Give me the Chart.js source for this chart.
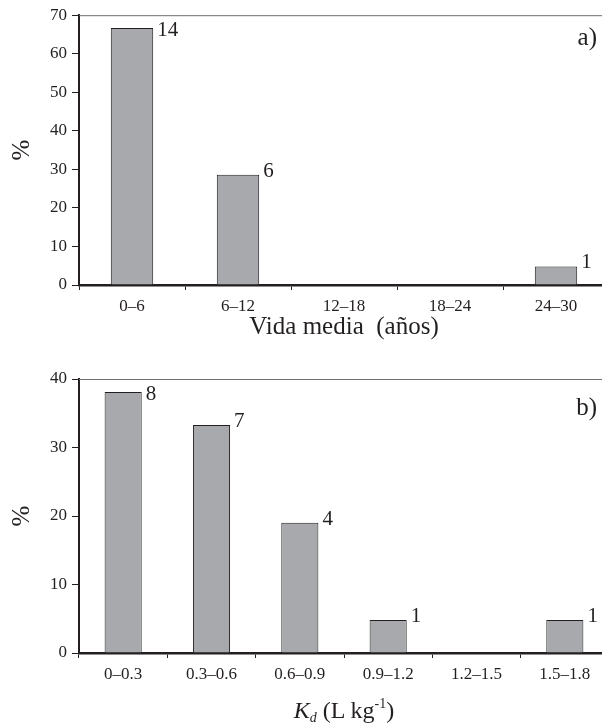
<!DOCTYPE html>
<html>
<head>
<meta charset="utf-8">
<script src="https://cdn.jsdelivr.net/npm/chart.js@4/dist/chart.umd.min.js"></script>
<style>
  html,body{margin:0;padding:0;background:#fff;}
  body{width:602px;height:723px;overflow:hidden;position:relative;font-family:"Liberation Serif","Times New Roman",serif;}
  canvas{position:absolute;left:0;}
  #cA{top:0;}
  #cB{top:360px;}
  #kdTitle{position:absolute;left:79px;width:530px;top:696px;text-align:center;font-size:24px;line-height:28px;color:#231f20;white-space:nowrap;}
  #kdTitle sub,#kdTitle sup{font-size:14px;line-height:0;position:relative;vertical-align:baseline;}
  #kdTitle sub{top:4px;}
  #kdTitle sup{top:-10px;}
</style>
</head>
<body>
<canvas id="cA" width="609" height="350"></canvas>
<canvas id="cB" width="609" height="363"></canvas>
<div id="kdTitle"><i>K</i><sub><i>d</i></sub> (L kg<sup>-1</sup>)</div>
<script>
// panel a) half-life classes
const catsA = ['0–6','6–12','12–18','18–24','24–30'];
const pctA = [66.7, 28.6, 0, 0, 4.8];
const countA = [14, 6, 0, 0, 1];
const yMaxA = 70;

// panel b) Kd classes
const catsB = ['0–0.3','0.3–0.6','0.6–0.9','0.9–1.2','1.2–1.5','1.5–1.8'];
const pctB = [38.1, 33.3, 19.0, 4.8, 0, 4.8];
const countB = [8, 7, 4, 1, 0, 1];
const yMaxB = 40;

const yStep = 10;
const ink = '#231f20';
const serif = '"Liberation Serif","Times New Roman",serif';

// top frame line, count labels next to bars, panel letter
const extras = {
  id:'extras',
  afterDatasetsDraw(chart, args, o){
    const {ctx, chartArea:a} = chart;
    ctx.save();
    ctx.strokeStyle = '#6d6e71'; ctx.lineWidth = 1;
    ctx.beginPath(); ctx.moveTo(a.left, a.top+0.5); ctx.lineTo(a.right, a.top+0.5); ctx.stroke();

    ctx.fillStyle = ink;
    ctx.font = '21px '+serif;
    ctx.textAlign = 'left'; ctx.textBaseline = 'alphabetic';
    const meta = chart.getDatasetMeta(0);
    meta.data.forEach((bar,i)=>{
      const n = o.counts[i];
      if(!n) return;
      const right = bar.x + bar.width/2;
      const y = Math.max(bar.y + 2, a.top + 21);
      ctx.fillText(String(n), right + 4, y);
    });

    ctx.font = '25px '+serif;
    ctx.textAlign = 'right';
    ctx.fillText(o.panel, a.right - 12, a.top + o.panelDy);
    ctx.restore();
  }
};

function makeChart(id, cats, pct, counts, yMax, o){
  const H = document.getElementById(id).height;
  return new Chart(document.getElementById(id), {
    type:'bar',
    data:{ labels:cats, datasets:[{
      data:pct,
      backgroundColor:'#a7a9ac',
      borderColor:ink,
      borderWidth:1,
      categoryPercentage:1,
      barPercentage:o.barPct
    }]},
    options:{
      responsive:false,
      animation:false,
      devicePixelRatio:1,
      layout:{ padding:{ top:o.padTop, left:0, right:0, bottom:0 } },
      plugins:{
        legend:{display:false},
        tooltip:{enabled:false},
        extras:{ counts, panel:o.panel, panelDy:o.panelDy }
      },
      scales:{
        x:{
          grid:{ offset:true, drawOnChartArea:false, drawTicks:true, tickLength:5, color:ink, lineWidth:1 },
          border:{ display:true, color:ink, width:2.5 },
          ticks:{ color:ink, font:{ family:serif, size:17 }, padding:6, maxRotation:0, autoSkip:false },
          title:{ display:!!o.xTitle, text:o.xTitle||'', color:ink, font:{ family:serif, size:25 }, padding:{ top:0, bottom:8 } },
          afterFit(s){ s.height = H - o.axisY; }
        },
        y:{
          min:0, max:yMax,
          grid:{ drawOnChartArea:false, drawTicks:true, tickLength:7, color:ink, lineWidth:1 },
          border:{ display:true, color:ink, width:2 },
          ticks:{ stepSize:yStep, color:ink, font:{ family:serif, size:17 }, padding:5 },
          title:{ display:true, text:'%', color:ink, font:{ family:serif, size:25 }, padding:{ top:7, bottom:0 } },
          afterFit(s){ s.width = 79; }
        }
      }
    },
    plugins:[extras]
  });
}

makeChart('cA', catsA, pctA, countA, yMaxA, { barPct:0.4, padTop:12, axisY:285, panel:'a)', panelDy:30, xTitle:'Vida media  (años)' });
makeChart('cB', catsB, pctB, countB, yMaxB, { barPct:0.42, padTop:19, axisY:293, panel:'b)', panelDy:36 });
</script>
</body>
</html>
